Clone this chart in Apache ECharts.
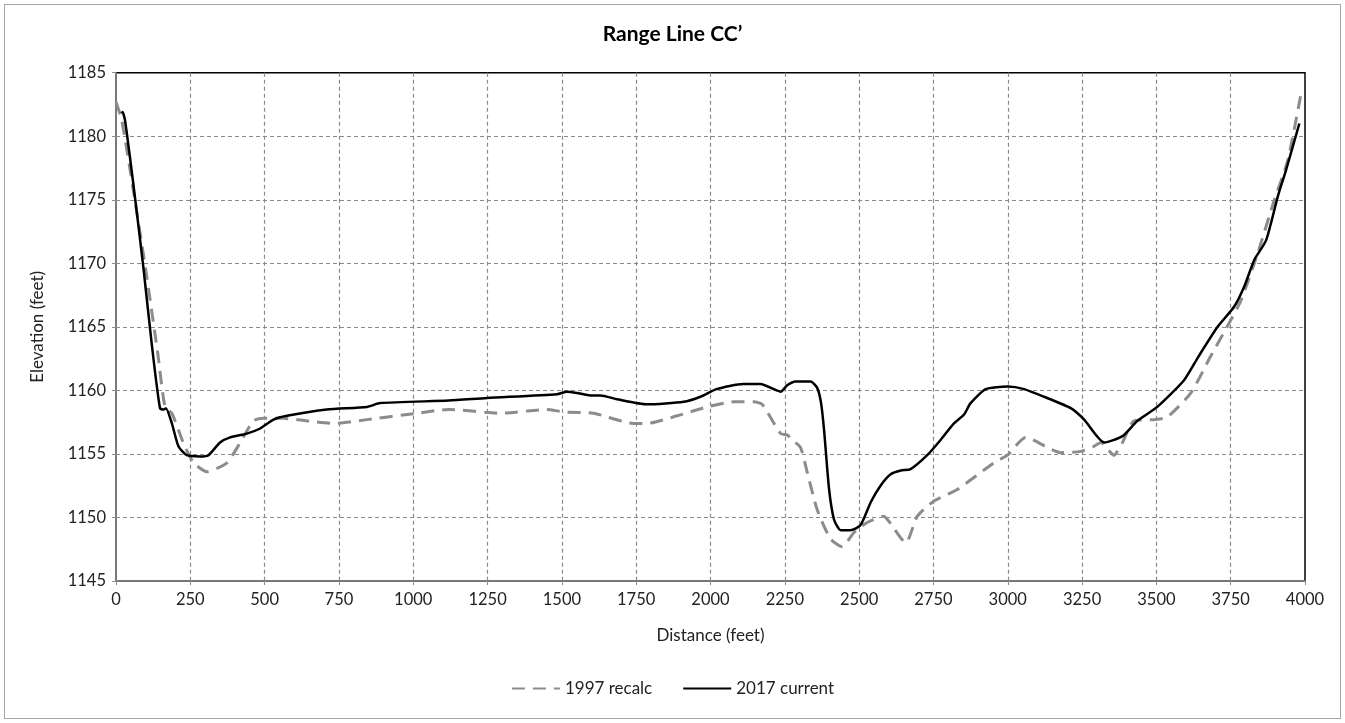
<!DOCTYPE html>
<html>
<head>
<meta charset="utf-8">
<script src="https://cdn.jsdelivr.net/npm/echarts@6/dist/echarts.min.js"></script>
<style>
  html, body { margin: 0; padding: 0; background: #fff; }
  #wrap { position: absolute; left: 4px; top: 4px; width: 1335px; height: 713px; border: 1px solid #a6a6a6; }
  #chart { position: absolute; left: -5px; top: -5px; width: 1345px; height: 723px; }
</style>
</head>
<body>
<div id="wrap"><div id="chart"></div></div>
<script>
// 1997 recalc
var dist1997 = [0, 19, 60, 100, 140, 165, 188, 226, 261, 306, 373, 418, 462, 496, 564, 642, 732, 844, 1012, 1119,
  1293, 1450, 1506, 1607, 1741, 1787, 1888, 1989, 2079, 2146, 2174, 2236, 2258, 2275, 2303, 2326, 2359, 2404, 2443,
  2482, 2527, 2583, 2600, 2657, 2696, 2752, 2830, 2953, 2999, 3060, 3178, 3246, 3290, 3313, 3357, 3386, 3425, 3498,
  3537, 3616, 3683, 3745, 3785, 3841, 3897, 3942, 3987];
var elev1997 = [1182.7, 1181.3, 1175.5, 1169.5, 1163.0, 1158.7, 1158.2, 1155.9, 1154.3, 1153.6, 1154.3, 1155.9, 1157.6, 1157.8, 1157.8, 1157.6, 1157.4, 1157.7, 1158.2, 1158.5,
  1158.2, 1158.5, 1158.3, 1158.2, 1157.4, 1157.4, 1158.0, 1158.7, 1159.1, 1159.1, 1158.9, 1156.6, 1156.5, 1156.1, 1155.5, 1153.5, 1150.6, 1148.3, 1147.7,
  1148.8, 1149.6, 1150.1, 1149.7, 1148.0, 1150.1, 1151.3, 1152.2, 1154.3, 1154.9, 1156.3, 1155.1, 1155.2, 1155.6, 1155.9, 1154.9, 1155.9, 1157.6, 1157.7,
  1157.9, 1159.8, 1162.7, 1165.3, 1167.1, 1170.8, 1175.0, 1178.1, 1183.4];

// 2017 current
var dist2017 = [19, 22, 30, 58, 92, 120, 148, 162, 168, 188, 210, 238, 283, 311, 350, 384, 440, 485, 530, 575, 709, 844, 889, 1119,
  1248, 1484, 1517, 1551, 1596, 1630, 1686, 1787, 1910, 1966, 2020, 2110, 2168, 2236, 2258, 2286, 2337, 2359, 2372, 2382,
  2399, 2416, 2438, 2471, 2505, 2539, 2572, 2606, 2640, 2673, 2729, 2774, 2819, 2853, 2875, 2926, 2999, 3055, 3122, 3212,
  3257, 3325, 3386, 3436, 3503, 3593, 3640, 3706, 3762, 3796, 3830, 3869, 3909, 3937, 3981];
var elev2017 = [1181.8, 1181.9, 1181.3, 1176.3, 1169.7, 1163.7, 1158.6, 1158.5, 1158.6, 1157.4, 1155.6, 1154.9, 1154.8, 1154.9, 1155.9, 1156.3, 1156.6, 1157.0, 1157.7, 1158.0, 1158.5, 1158.7, 1159.0, 1159.2,
  1159.4, 1159.7, 1159.9, 1159.8, 1159.6, 1159.6, 1159.3, 1158.9, 1159.1, 1159.5, 1160.1, 1160.5, 1160.5, 1159.9, 1160.4, 1160.7, 1160.7, 1160.2, 1159.0, 1156.9,
  1152.2, 1149.8, 1149.0, 1149.0, 1149.4, 1151.2, 1152.5, 1153.4, 1153.7, 1153.8, 1154.9, 1156.1, 1157.4, 1158.1, 1159.0, 1160.1, 1160.3, 1160.1, 1159.5, 1158.6,
  1157.7, 1155.9, 1156.4, 1157.6, 1158.7, 1160.8, 1162.6, 1165.0, 1166.6, 1168.2, 1170.3, 1171.8, 1175.3, 1177.4, 1181.0];

var xTicks = [0, 250, 500, 750, 1000, 1250, 1500, 1750, 2000, 2250, 2500, 2750, 3000, 3250, 3500, 3750, 4000];
var yTicks = [1145, 1150, 1155, 1160, 1165, 1170, 1175, 1180, 1185];

function zip(xs, ys) {
  return xs.map(function (x, i) { return [x, ys[i]]; });
}

var font = 'Lato, "Open Sans", sans-serif';
var gridLine = { show: true, showMinLine: false, showMaxLine: false, lineStyle: { color: '#8a8a8a', type: [4, 3], width: 1.2 } };
var chart = echarts.init(document.getElementById('chart'));
chart.setOption({
  animation: false,
  textStyle: { fontFamily: font },
  title: {
    text: 'Range Line CC\u2019',
    left: 'center',
    top: 19,
    textStyle: { fontFamily: font, fontSize: 21, fontWeight: 'bold', color: '#000' }
  },
  legend: {
    bottom: 21,
    left: 'center',
    itemWidth: 48,
    itemHeight: 12,
    itemGap: 30,
    itemStyle: { opacity: 0 },
    textStyle: { fontFamily: font, fontSize: 17, color: '#222' },
    data: ['1997 recalc', '2017 current']
  },
  grid: { left: 116, right: 40, top: 72.7, bottom: 142, show: true, borderColor: '#000', borderWidth: 1.5 },
  xAxis: {
    type: 'value',
    min: xTicks[0],
    max: xTicks[xTicks.length - 1],
    interval: 250,
    name: 'Distance (feet)',
    nameLocation: 'middle',
    nameGap: 46,
    nameTextStyle: { fontFamily: font, fontSize: 17, color: '#222' },
    axisLine: { lineStyle: { color: '#8c8c8c', width: 1.5 } },
    axisTick: { show: true, length: 4, lineStyle: { color: '#8c8c8c' } },
    axisLabel: { fontFamily: font, fontSize: 16.5, color: '#222', margin: 10, formatter: function (v) { return String(v); } },
    splitLine: gridLine
  },
  yAxis: {
    type: 'value',
    min: yTicks[0],
    max: yTicks[yTicks.length - 1],
    interval: 5,
    name: 'Elevation (feet)',
    nameLocation: 'middle',
    nameGap: 70,
    nameTextStyle: { fontFamily: font, fontSize: 17, color: '#222' },
    axisLine: { show: true, lineStyle: { color: '#8c8c8c', width: 1.5 } },
    axisTick: { show: true, length: 4, lineStyle: { color: '#8c8c8c' } },
    axisLabel: { fontFamily: font, fontSize: 16.5, color: '#222', margin: 10, formatter: function (v) { return String(v); } },
    splitLine: gridLine
  },
  series: [
    {
      name: '1997 recalc',
      type: 'line',
      data: zip(dist1997, elev1997),
      symbol: 'none',
      smooth: 0.2,
      itemStyle: { color: '#8c8c8c' },
      lineStyle: { color: '#8c8c8c', width: 3, type: [13, 8] }
    },
    {
      name: '2017 current',
      type: 'line',
      data: zip(dist2017, elev2017),
      symbol: 'none',
      smooth: 0.2,
      itemStyle: { color: '#000' },
      lineStyle: { color: '#000', width: 2.5 }
    }
  ]
});
</script>
</body>
</html>
